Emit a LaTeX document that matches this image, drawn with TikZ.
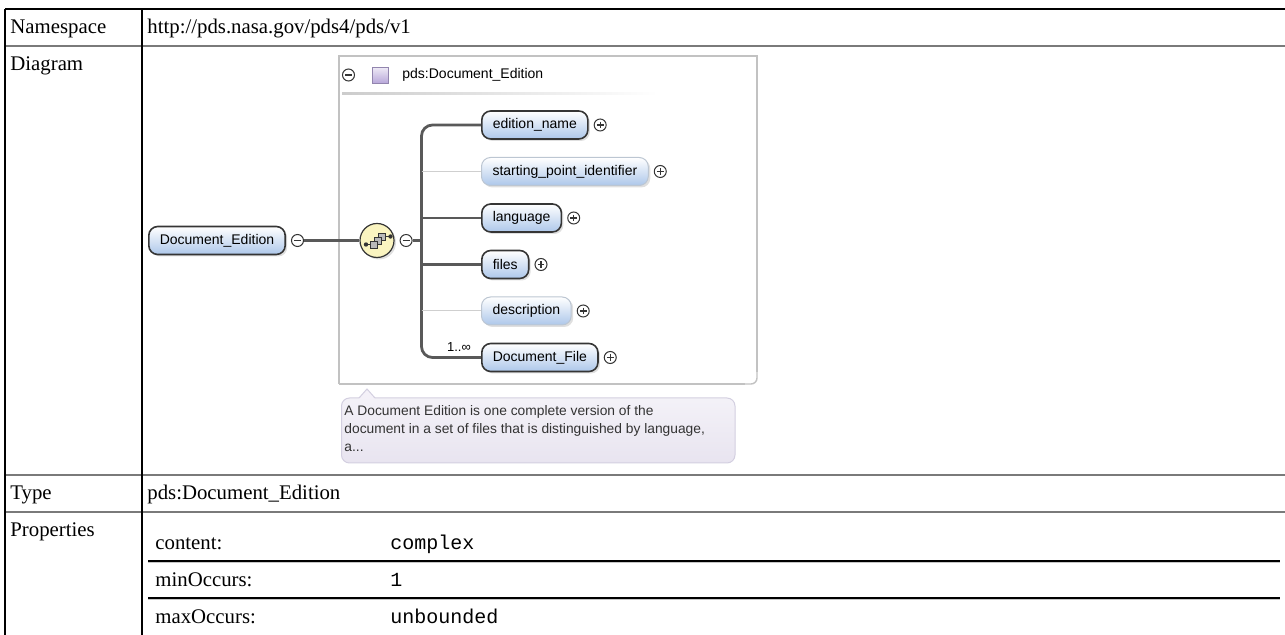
\documentclass[tikz,border=0pt]{standalone}
\usepackage{fontspec}
\setmainfont{Liberation Serif}
\setmonofont{Liberation Mono}
\newfontfamily\diagfont{Liberation Sans}
\usetikzlibrary{positioning,shadows}

\definecolor{elemblue}{HTML}{ADC7EA}
\definecolor{elemline}{HTML}{353535}
\definecolor{optline}{HTML}{BCC6D2}
\definecolor{wiregray}{HTML}{595959}
\definecolor{optwire}{HTML}{CFCFCF}
\definecolor{framegray}{HTML}{C2C2C2}
\definecolor{notefill}{HTML}{E8E4F0}
\definecolor{noteline}{HTML}{D3CFE0}
\definecolor{typepurple}{HTML}{B7A6D9}
\definecolor{compyellow}{HTML}{FAF4C0}
\definecolor{rulegray}{HTML}{7A7A7A}
\definecolor{notetextgray}{HTML}{333333}

\tikzset{
  cell/.style={anchor=base west, inner sep=0pt, font=\fontsize{10.4}{12}\selectfont},
  monocell/.style={cell, font=\fontsize{10}{12}\selectfont\ttfamily},
  elem/.style={draw=elemline, line width=0.8pt, rounded corners=4.5pt,
    top color=white, bottom color=elemblue, minimum height=14pt,
    inner xsep=5.5pt, inner ysep=0pt, font=\diagfont\fontsize{7}{8}\selectfont,
    drop shadow={shadow xshift=1pt, shadow yshift=-1pt, opacity=0.25}},
  optelem/.style={elem, draw=optline, line width=0.5pt},
  wire/.style={draw=wiregray, line width=1.4pt},
  optwire/.style={draw=optwire, line width=0.5pt},
  expander/.style={circle, draw=elemline, fill=white, minimum size=6pt,
    inner sep=0pt, line width=0.5pt},
  minus/.style={expander, path picture={
    \draw[line width=0.6pt] ([xshift=1.3pt]path picture bounding box.west)
      -- ([xshift=-1.3pt]path picture bounding box.east);}},
  plus/.style={expander, path picture={
    \draw[line width=0.6pt] ([xshift=1.3pt]path picture bounding box.west)
      -- ([xshift=-1.3pt]path picture bounding box.east)
      ([yshift=-1.3pt]path picture bounding box.north)
      -- ([yshift=1.3pt]path picture bounding box.south);}},
}

\begin{document}
\begin{tikzpicture}[x=0.5pt, y=-0.5pt]
  \useasboundingbox (0,0) rectangle (1285,635);

  % table rules
  \draw[black, line width=0.6pt] (5,9) -- (1285,9);
  \draw[rulegray, line width=0.9pt] (5,46) -- (1285,46) (5,475) -- (1285,475) (5,512) -- (1285,512);
  \draw[black, line width=0.6pt] (5,9) -- (5,635) (142,9) -- (142,635);
  \draw[black, line width=0.6pt] (148,561) -- (1280,561) (148,598) -- (1280,598);
  \draw[gray!45, line width=0.5pt] (148,562.6) -- (1280,562.6) (148,599.6) -- (1280,599.6);

  % table texts
  \node[cell] (nslabel) at (10,33.5) {Namespace};
  \node[cell] (nsvalue) at (147,33.5) {http://pds.nasa.gov/pds4/pds/v1};
  \node[cell] (diaglabel) at (10,71) {Diagram};
  \node[cell] (typelabel) at (10,500) {Type};
  \node[cell] (typevalue) at (147,500) {pds:Document\_Edition};
  \node[cell] (proplabel) at (10,537) {Properties};
  \node[cell] (contentkey) at (155,550) {content:};
  \node[monocell] (contentval) at (390,550) {complex};
  \node[cell] (minkey) at (155,587) {minOccurs:};
  \node[monocell] (minval) at (390,587) {1};
  \node[cell] (maxkey) at (155,624) {maxOccurs:};
  \node[monocell] (maxval) at (390,624) {unbounded};

  % type frame
  \draw[framegray, line width=0.7pt] (339,384) -- (339,56) -- (757,56) -- (757,372);
  \draw[framegray, line width=0.7pt, rounded corners=3pt] (757,372) -- (757,384) -- (745,384);
  \draw[framegray, line width=0.7pt] (745,384) -- (339,384);
  \node[minus] (hdminus) at (348.5,75) {};
  \node[draw=typepurple!80!black, line width=0.3pt, top color=typepurple!25, bottom color=typepurple,
    minimum size=8pt, inner sep=0pt] (typeicon) at (380,75.5) {};
  \node[anchor=west, inner sep=0pt, font=\diagfont\fontsize{7}{8}\selectfont] (typename) at (402,75) {pds:Document\_Edition};
  \shade[left color=gray!40, right color=white] (342,93) rectangle (658,95);

  % root and sequence
  \node[elem, anchor=west] (root) at (148,240.5) {Document\_Edition};
  \node[minus, right=2.5pt of root] (rootminus) {};
  \node[circle, draw=elemline, line width=0.6pt, fill=compyellow, minimum size=17pt,
    drop shadow={shadow xshift=1pt, shadow yshift=-1pt, opacity=0.25}] (seq) at (377,240.5) {};
  \node[minus, right=2.5pt of seq] (seqminus) {};
  \coordinate (bus) at (421.5,240.5);
  \begin{scope}[shift={(seq.center)}]
    \draw[elemline, line width=0.6pt] (-11,4) -- (-6.5,4);
    \fill[elemline] (-11,4) circle (1.1pt);
    \foreach \dx/\dy in {5/-4, 1/0, -3/4}
      \draw[elemline, fill=gray!55, line width=0.4pt] (\dx-3.5,\dy-3.5) rectangle (\dx+3.5,\dy+3.5);
    \draw[elemline, line width=0.6pt] (8.5,-4) -- (13.5,-4);
    \fill[elemline] (13.5,-4) circle (1.1pt);
  \end{scope}

  % children
  \node[elem, anchor=west] (edname) at (481,125) {edition\_name};
  \node[optelem, anchor=west] (spid) at (481,171.5) {starting\_point\_identifier};
  \node[elem, anchor=west] (lang) at (481,218) {language};
  \node[elem, anchor=west] (files) at (481,264.5) {files};
  \node[optelem, anchor=west] (descr) at (481,311) {description};
  \node[elem, anchor=west] (docfile) at (481,357.5) {Document\_File};
  \node[plus, right=2.5pt of edname] (ednameplus) {};
  \node[plus, right=2.5pt of spid] (spidplus) {};
  \node[plus, right=2.5pt of lang] (langplus) {};
  \node[plus, right=2.5pt of files] (filesplus) {};
  \node[plus, right=2.5pt of descr] (descrplus) {};
  \node[plus, right=2.5pt of docfile] (docfileplus) {};
  \node[inner sep=0pt, font=\diagfont\fontsize{6.5}{7}\selectfont] (docmult) at (459,347) {1..∞};

  % wires
  \draw[wire] (rootminus) -- (seq);
  \draw[wire] (seqminus) -- (bus);
  \draw[wire, rounded corners=5.5pt] (edname.west) -| (bus) |- (docfile.west);
  \draw[optwire] (bus |- spid.west) -- (spid.west);
  \draw[wire] (bus |- lang.west) -- (lang.west);
  \draw[wire] (bus |- files.west) -- (files.west);
  \draw[optwire] (bus |- descr.west) -- (descr.west);

  % annotation
  \draw[noteline, top color=notefill!50, bottom color=notefill, line width=0.5pt, rounded corners=4pt] (341.5,398) rectangle (735,463);
  \fill[notefill!50] (359,398.8) -- (367,389) -- (375,398.8) -- cycle;
  \draw[noteline, line width=0.5pt] (359,398) -- (367,389) -- (375,398);
  \node[anchor=north west, inner sep=0pt, align=left, text=notetextgray,
    font=\diagfont\fontsize{6.9}{9}\selectfont] (notetext) at (344,405)
    {A Document Edition is one complete version of the\\
     document in a set of files that is distinguished by language,\\
     a...};
\end{tikzpicture}
\end{document}
